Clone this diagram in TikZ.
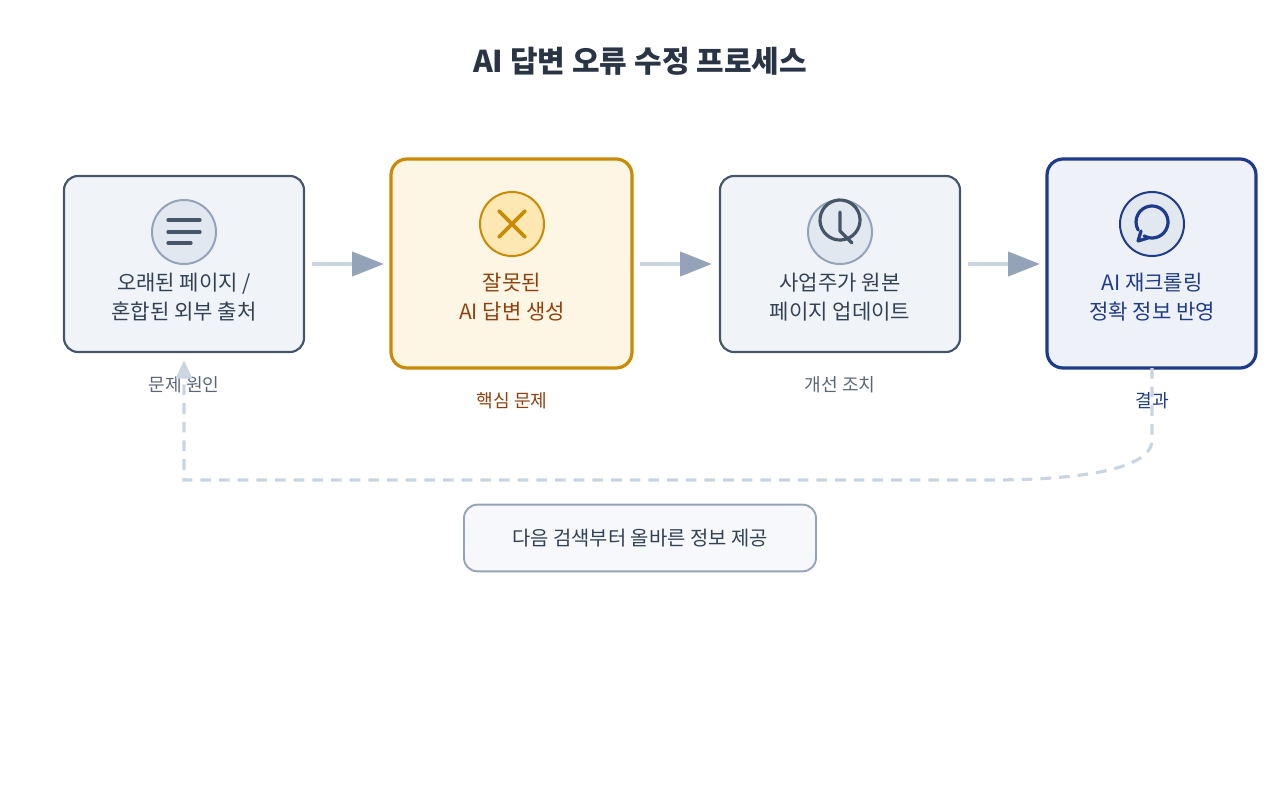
\documentclass[tikz,border=0pt]{standalone}
\usepackage{fontspec}
\setmainfont{Noto Sans CJK KR}
\usetikzlibrary{arrows.meta}
\definecolor{slate}{HTML}{475569}
\definecolor{txt}{HTML}{334155}
\definecolor{pale}{HTML}{F0F4F9}
\definecolor{gold}{HTML}{CA8A04}
\definecolor{goldbg}{HTML}{FEF6E4}
\definecolor{goldc}{HTML}{FDE8B4}
\definecolor{brown}{HTML}{92400E}
\definecolor{navy}{HTML}{1E3A8A}
\definecolor{navybg}{HTML}{EEF2F8}
\definecolor{circ}{HTML}{E2E8F0}
\definecolor{circb}{HTML}{94A3B8}
\definecolor{arr}{HTML}{CBD5E1}
\definecolor{arrh}{HTML}{94A3B8}
\begin{document}
\begin{tikzpicture}[x=0.75pt,y=-0.75pt,
 box/.style={draw=slate,line width=1.6pt,fill=pale,rounded corners=10.5pt},
 lbl/.style={font=\fontsize{15.8}{22}\selectfont,align=center},
 sub/.style={font=\fontsize{13.6}{16}\selectfont},
 ic/.style={line width=2.4pt,line cap=round,line join=round},
 flow/.style={draw=arr,line width=3pt,-{Triangle[length=24pt,width=18pt,fill=arrh,color=arrh]}}]
\useasboundingbox (0,0) rectangle (1280,800);
\node[font=\bfseries\fontsize{22.5}{26}\selectfont,text=txt!80!black] (title) at (640,61) {AI 답변 오류 수정 프로세스};
% boxes
\draw[box] (64,176) rectangle (304,352);
\node[inner sep=0] (b1) at (184,264) {};
\draw[box,draw=gold,line width=2.4pt,fill=goldbg,rounded corners=12pt] (391,159) rectangle (632,368);
\node[inner sep=0] (b2) at (512,264) {};
\draw[box] (720,176) rectangle (960,352);
\node[inner sep=0] (b3) at (840,264) {};
\draw[box,draw=navy,line width=2.4pt,fill=navybg,rounded corners=12pt] (1047,159) rectangle (1256,368);
\node[inner sep=0] (b4) at (1152,264) {};
% icons
\draw[circb,line width=1.5pt,fill=circ] (184,232) circle (32);
\draw[slate,ic] (168,220)--(200,220) (168,232)--(200,232) (168,243)--(191,243);
\draw[gold,line width=1.5pt,fill=goldc] (512,224) circle (32);
\draw[gold,ic,line width=2.8pt] (499,211)--(525,237) (525,211)--(499,237);
\draw[circb,line width=1.5pt,fill=circ] (840,232) circle (32);
\begin{scope}[shift={(840,220)},yscale=-1]
\draw[slate,ic] (150:20) arc (150:-255:20);
\draw[slate,ic] (0,8)--(0,-11)--(12,-23);
\end{scope}
\draw[navy,line width=1.5pt,fill=circ] (1152,224) circle (32);
\begin{scope}[shift={(1152,222)},yscale=-1]
\draw[navy,ic] (-120:16) arc (-120:210:16);
\draw[navy,ic] (-14,-19)--(-4,-16) (-14,-19)--(-11,-9);
\end{scope}
% labels
\node[lbl,text=txt] at (184,297) {오래된 페이지 /\\혼합된 외부 출처};
\node[lbl,text=brown] at (512,297) {잘못된\\AI 답변 생성};
\node[lbl,text=txt] at (840,297) {사업주가 원본\\페이지 업데이트};
\node[lbl,text=navy] at (1152,297) {AI 재크롤링\\정확 정보 반영};
\node[sub,text=slate!90] at (184,385) {문제 원인};
\node[sub,text=brown] at (512,401) {핵심 문제};
\node[sub,text=slate!90] at (840,385) {개선 조치};
\node[sub,text=navy] at (1152,401) {결과};
% arrows
\coordinate (a1) at (312,264); \coordinate (a1e) at (384,264);
\coordinate (a2) at (640,264); \coordinate (a2e) at (712,264);
\coordinate (a3) at (968,264); \coordinate (a3e) at (1040,264);
\draw[flow] (a1)--(a1e); \draw[flow] (a2)--(a2e); \draw[flow] (a3)--(a3e);
% feedback
\coordinate (f0) at (1152,368); \coordinate (f1) at (184,360);
\draw[arr,line width=2.4pt,dash pattern=on 8pt off 6pt,-{Triangle[length=14pt,width=12pt,fill=arr,color=arr]}]
 (f0)--(1152,440) .. controls (1152,475) and (1050,480) .. (990,480) -- (184,480) -- (f1);
\node[draw=circb,line width=1.4pt,fill=pale!60!white,rounded corners=10pt,minimum width=264pt,minimum height=50pt,font=\fontsize{14.9}{18}\selectfont,text=txt] (note) at (640,538) {다음 검색부터 올바른 정보 제공};
\end{tikzpicture}
\end{document}
